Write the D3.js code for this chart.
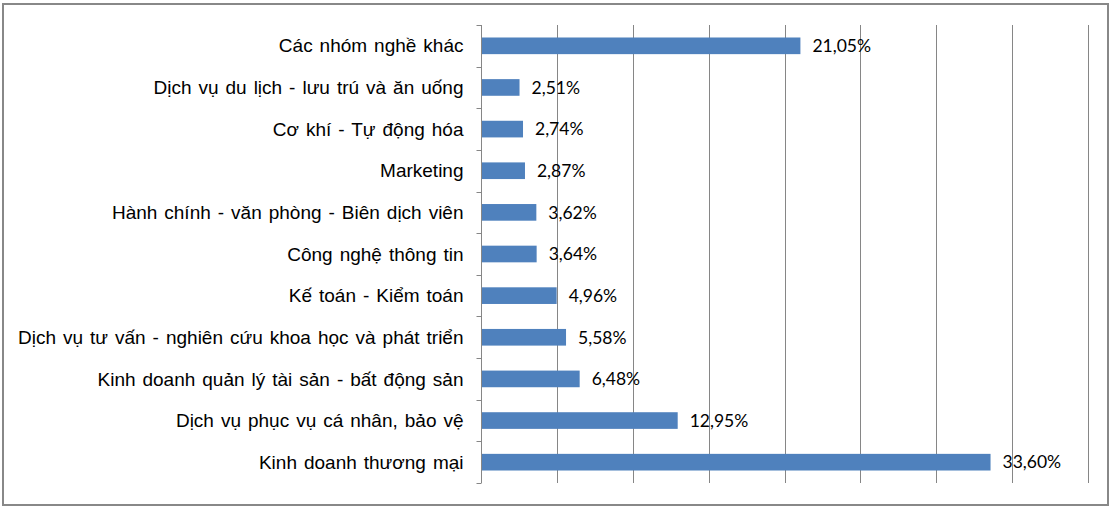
<!DOCTYPE html>
<html>
<head>
<meta charset="utf-8">
<script src="https://cdn.jsdelivr.net/npm/d3@7"></script>
<style>
  body { margin: 0; background: #ffffff; }
  svg { display: block; }
</style>
</head>
<body>
<div id="chart"></div>
<script>
// categories top to bottom, share in %
const categories = [
    "Các nhóm nghề khác",
    "Dịch vụ du lịch - lưu trú và ăn uống",
    "Cơ khí - Tự động hóa",
    "Marketing",
    "Hành chính - văn phòng - Biên dịch viên",
    "Công nghệ thông tin",
    "Kế toán - Kiểm toán",
    "Dịch vụ tư vấn - nghiên cứu khoa học và phát triển",
    "Kinh doanh quản lý tài sản - bất động sản",
    "Dịch vụ phục vụ cá nhân, bảo vệ",
    "Kinh doanh thương mại"
];
const shares = [21.05, 2.51, 2.74, 2.87, 3.62, 3.64, 4.96, 5.58, 6.48, 12.95, 33.60];
const gridTicks = [5, 10, 15, 20, 25, 30, 35, 40];

const W = 1114, H = 509;
const plot = {left: 481.5, right: 1087.5, top: 25, bottom: 483};

const svg = d3.select("#chart").append("svg")
    .attr("width", W)
    .attr("height", H);

// chart area frame
svg.append("rect")
    .attr("x", 3).attr("y", 4)
    .attr("width", 1105).attr("height", 501)
    .attr("fill", "#ffffff")
    .attr("stroke", "#888888")
    .attr("stroke-width", 2);

let x = d3.scaleLinear()
    .domain([0, 40])
    .range([plot.left, plot.right]);

let y = d3.scaleBand()
    .domain(categories)
    .range([plot.top, plot.bottom])
    .paddingInner(0.6)
    .paddingOuter(0.3);

// vertical gridlines
svg.selectAll(".grid")
    .data(gridTicks)
    .enter()
    .append("line")
    .attr("class", "grid")
    .attr("x1", d => Math.round(x(d)) + 0.5)
    .attr("x2", d => Math.round(x(d)) + 0.5)
    .attr("y1", plot.top)
    .attr("y2", plot.bottom)
    .attr("stroke", "#868686")
    .attr("stroke-width", 1);

// bars
svg.selectAll(".bar")
    .data(categories)
    .enter()
    .append("rect")
    .attr("class", "bar")
    .attr("x", x(0))
    .attr("y", d => y(d))
    .attr("width", (d, i) => x(shares[i]) - x(0))
    .attr("height", y.bandwidth())
    .attr("fill", "#4f81bd");

// category axis: line + ticks at band edges
let step = (plot.bottom - plot.top) / categories.length;
let edges = d3.range(categories.length + 1).map(i => plot.top + i * step);

svg.append("line")
    .attr("x1", plot.left).attr("x2", plot.left)
    .attr("y1", plot.top).attr("y2", plot.bottom)
    .attr("stroke", "#868686");

svg.selectAll(".tick")
    .data(edges)
    .enter()
    .append("line")
    .attr("class", "tick")
    .attr("x1", plot.left - 5).attr("x2", plot.left)
    .attr("y1", d => Math.round(d) + 0.5)
    .attr("y2", d => Math.round(d) + 0.5)
    .attr("stroke", "#868686");

// category labels
svg.selectAll(".cat")
    .data(categories)
    .enter()
    .append("text")
    .attr("class", "cat")
    .attr("x", plot.left - 18)
    .attr("y", d => y(d) + y.bandwidth() / 2)
    .attr("dy", "0.35em")
    .attr("text-anchor", "end")
    .style("font-family", "Arial, 'Liberation Sans', sans-serif")
    .style("font-size", "19px")
    .style("word-spacing", "1.7px")
    .attr("fill", "#000")
    .text(d => d);

// value labels
svg.selectAll(".val")
    .data(categories)
    .enter()
    .append("text")
    .attr("class", "val")
    .attr("x", (d, i) => x(shares[i]) + 12)
    .attr("y", d => y(d) + y.bandwidth() / 2)
    .attr("dy", "0.36em")
    .style("font-family", "Lato, 'Open Sans', sans-serif")
    .style("font-size", "17.5px")
    .attr("fill", "#000")
    .text((d, i) => shares[i].toFixed(2).replace(".", ",") + "%");
</script>
</body>
</html>
